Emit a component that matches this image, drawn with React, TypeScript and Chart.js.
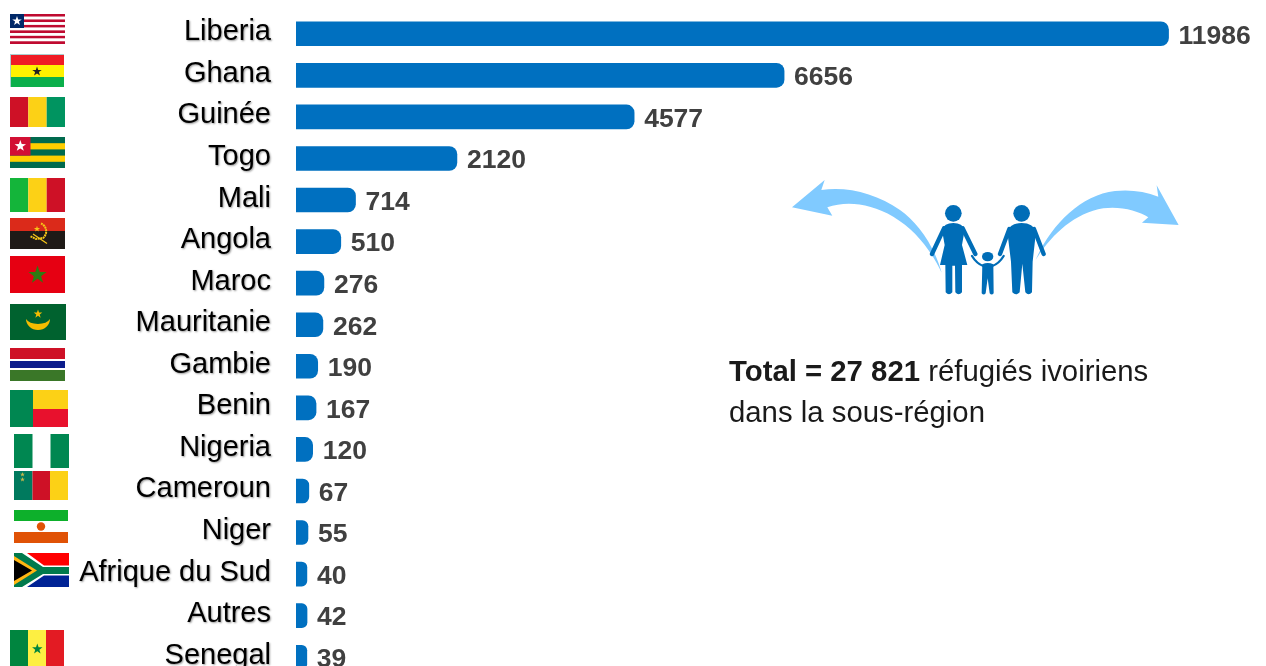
import React, { useEffect, useRef } from "react";
import { Chart, registerables } from "chart.js";

Chart.register(...registerables);

const countries = ["Liberia","Ghana","Guinée","Togo","Mali","Angola","Maroc","Mauritanie","Gambie","Benin","Nigeria","Cameroun","Niger","Afrique du Sud","Autres","Senegal"];
const refugees = [11986,6656,4577,2120,714,510,276,262,190,167,120,67,55,40,42,39];

const BAR = "#0070C0";
const FONT = '"Liberation Sans", Arial, sans-serif';

const labelShadow = {
  id: "labelShadow",
  beforeDraw(chart: any) {
    const c = chart.ctx;
    c.shadowColor = "rgba(0,0,0,0.4)";
    c.shadowBlur = 2;
    c.shadowOffsetX = 1;
    c.shadowOffsetY = 1;
  },
  beforeDatasetsDraw(chart: any) {
    const c = chart.ctx;
    c.shadowColor = "rgba(0,0,0,0)";
    c.shadowBlur = 0;
    c.shadowOffsetX = 0;
    c.shadowOffsetY = 0;
  },
};

const valueLabels = {
  id: "valueLabels",
  afterDatasetsDraw(chart: any) {
    const c = chart.ctx;
    const meta = chart.getDatasetMeta(0);
    c.save();
    c.font = `bold 26.5px ${FONT}`;
    c.fillStyle = "#404040";
    c.textAlign = "left";
    c.textBaseline = "middle";
    meta.data.forEach((el: any, i: number) => {
      c.fillText(String(refugees[i]), el.x + 10, el.y + 2.5);
    });
    c.restore();
  },
};

function star(cx: number, cy: number, r: number) {
  const pts: string[] = [];
  for (let i = 0; i < 10; i++) {
    const a = -Math.PI / 2 + (i * Math.PI) / 5;
    const q = i % 2 ? r * 0.4 : r;
    pts.push(`${cx + q * Math.cos(a)},${cy + q * Math.sin(a)}`);
  }
  return pts.join(" ");
}

function R(x: number, y: number, w: number, h: number, fill: string) {
  return <rect x={x} y={y} width={w} height={h} fill={fill} />;
}

function Flags() {
  const liberia = [];
  for (let i = 0; i < 11; i++) {
    liberia.push(<rect key={i} x={10} y={14 + (i * 30) / 11} width={55} height={30 / 11} fill={i % 2 ? "#fff" : "#BF0A30"} />);
  }
  return (
    <svg width={1266} height={666} style={{ position: "absolute", left: 0, top: 0, pointerEvents: "none" }}>
      {/* Liberia */}
      {liberia}
      {R(10, 14, 14, 14, "#002868")}
      <polygon points={star(17, 21, 5)} fill="#fff" />
      {/* Ghana */}
      {R(10, 54, 54, 33, "#A9CFCF")}
      {R(11, 55, 53, 10, "#EF1C25")}
      {R(11, 65, 53, 12, "#FFF200")}
      {R(11, 77, 53, 10, "#0BAF4B")}
      <polygon points={star(37, 71.5, 5)} fill="#222" />
      {/* Guinée */}
      {R(10, 97, 18.3, 30, "#CE1126")}
      {R(28.3, 97, 18.4, 30, "#FCD116")}
      {R(46.7, 97, 18.3, 30, "#009460")}
      {/* Togo */}
      {R(10, 137, 55, 31, "#006A4E")}
      {R(10, 143.2, 55, 6.2, "#FFCE00")}
      {R(10, 155.6, 55, 6.2, "#FFCE00")}
      {R(10, 137, 20.5, 18.6, "#D21034")}
      <polygon points={star(20.3, 146, 6)} fill="#fff" />
      {/* Mali */}
      {R(10, 178, 18.3, 34, "#14B53A")}
      {R(28.3, 178, 18.4, 34, "#FCD116")}
      {R(46.7, 178, 18.3, 34, "#CE1126")}
      {/* Angola */}
      {R(10, 218, 55, 13, "#DB2A1A")}
      {R(10, 231, 55, 18, "#1F1A17")}
      <path d="M41 223.5 A8.5 8.5 0 0 1 43 238 L36 239 L30 236" fill="none" stroke="#F5C518" strokeWidth={2} strokeDasharray="2 0.6" />
      <path d="M33 234 L47 243.5" stroke="#F5C518" strokeWidth={1.3} fill="none" />
      <polygon points={star(37, 229, 3.2)} fill="#F5C518" />
      {/* Maroc */}
      {R(10, 256, 55, 37, "#E60012")}
      <polygon points={star(37.5, 275, 9.5)} fill="#2F7A12" />
      {/* Mauritanie */}
      {R(10, 304, 56, 36, "#00622F")}
      <path d="M26 319 A12 11 0 0 0 50 319 A13 8 0 0 1 26 319 Z" fill="#F5BC00" />
      <polygon points={star(38, 314, 4.5)} fill="#F5BC00" />
      {/* Gambie */}
      {R(10, 348, 55, 11, "#CE1126")}
      {R(10, 361, 55, 7, "#0C1C8C")}
      {R(10, 370, 55, 11, "#3A7728")}
      {/* Benin */}
      {R(10, 390, 23, 37, "#008751")}
      {R(33, 390, 35, 19, "#FCD116")}
      {R(33, 409, 35, 18, "#E8112D")}
      {/* Nigeria */}
      {R(14, 434, 18.5, 34, "#008751")}
      {R(50.5, 434, 18.5, 34, "#008751")}
      {/* Cameroun */}
      {R(14, 471, 18.5, 29, "#007A5E")}
      {R(32.5, 471, 17.5, 29, "#CE1126")}
      {R(50, 471, 18, 29, "#FCD116")}
      <polygon points={star(22.5, 474.5, 2.5)} fill="#C9B84A" />
      <polygon points={star(22.5, 479.5, 2.5)} fill="#C9B84A" />
      {/* Niger */}
      {R(14, 510, 54, 11, "#0DB02B")}
      {R(14, 532, 54, 11, "#E05206")}
      <circle cx={41} cy={526.5} r={4.2} fill="#E05206" />
      {/* Afrique du Sud */}
      {R(14, 553, 55, 17, "#FF0000")}
      {R(14, 570, 55, 17, "#002395")}
      <polygon points="14,553 27,553 44,565.5 69,565.5 69,575.5 44,575.5 27,587 14,587" fill="#fff" />
      <polygon points="14,553 22,553 43,567 69,567 69,574 43,574 22,587 14,587" fill="#007A4D" />
      <polygon points="14,556 37,570.5 14,585" fill="#FFB612" />
      <polygon points="14,560 32,570.5 14,581" fill="#000" />
      {/* Senegal */}
      {R(10, 630, 18, 36, "#00853F")}
      {R(28, 630, 18, 36, "#FDEF42")}
      {R(46, 630, 18, 36, "#E31B23")}
      <polygon points={star(37.3, 649, 5.5)} fill="#00853F" />
    </svg>
  );
}

function Family() {
  const blue = "#006DB7";
  const light = "#80CAFF";
  return (
    <svg width={1266} height={666} style={{ position: "absolute", left: 0, top: 0, pointerEvents: "none" }}>
      <g transform="translate(780 170) scale(0.3333)">
        <path d="M36 112 L134 30 L124 60 C200 48 290 70 360 120 C410 155 460 220 485 308 C450 235 405 180 340 140 C270 100 200 92 142 112 L157 137 Z" fill={light} />
        <path d="M1196 165 L1130 46 L1135 80 C1095 64 1050 58 1005 63 C900 75 810 170 767 270 C810 200 880 130 970 115 C1020 108 1075 122 1105 142 L1086 158 Z" fill={light} />
      </g>
      <g transform="translate(920 195) scale(0.3333)">
        <g fill={blue}>
          <circle cx={100} cy={55} r={25} />
          <circle cx={305} cy={55} r={25} />
          <ellipse cx={203} cy={185} rx={17} ry={14} />
          <path d="M66 105 Q72 84 100 84 Q128 84 134 105 L126 150 L142 210 L126 210 L126 292 Q116 304 106 292 L105 212 L97 212 L97 292 Q87 304 77 292 L76 210 L60 210 L74 150 Z" />
          <path d="M262 110 Q270 84 305 84 Q340 84 348 110 L338 200 L336 292 Q326 304 316 292 L307 206 L299 292 Q288 304 277 292 L273 200 Z" />
          <path d="M187 208 Q203 200 220 208 L221 295 Q215 302 209 295 L203 250 L197 295 Q191 302 185 295 Z" />
        </g>
        <g stroke={blue} fill="none" strokeLinecap="round">
          <g strokeWidth={13}>
            <path d="M72 100 L36 177" />
            <path d="M128 100 L166 177" />
            <path d="M268 102 L240 177" />
            <path d="M342 102 L371 177" />
          </g>
          <g strokeWidth={7}>
            <path d="M190 213 Q170 206 156 183" />
            <path d="M217 213 Q237 206 251 183" />
          </g>
        </g>
      </g>
    </svg>
  );
}

export default function App() {
  const ref = useRef<HTMLCanvasElement | null>(null);
  useEffect(() => {
    document.body.style.margin = "0";
    document.body.style.background = "#fff";
    const chart = new Chart(ref.current as HTMLCanvasElement, {
      type: "bar",
      data: {
        labels: countries,
        datasets: [
          {
            data: refugees,
            base: -111,
            backgroundColor: BAR,
            barThickness: 24,
            borderRadius: { topLeft: 0, bottomLeft: 0, topRight: 8, bottomRight: 8 },
            borderSkipped: false,
          } as any,
        ],
      },
      options: {
        indexAxis: "y",
        animation: false,
        responsive: false,
        events: [],
        layout: { padding: { top: 13, bottom: 12, left: 0, right: 0 } },
        plugins: { legend: { display: false }, tooltip: { enabled: false } },
        scales: {
          x: { display: false, min: -111, max: 13337 },
          y: {
            grid: { display: false, drawTicks: false },
            border: { display: false },
            afterFit: (s: any) => { s.width = 296; s.paddingTop = 0; s.paddingBottom = 0; },
            ticks: {
              autoSkip: false,
              padding: 25,
              labelOffset: -1.5,
              color: "#000",
              font: { family: FONT, size: 29 },
            },
          },
        },
      } as any,
      plugins: [labelShadow, valueLabels],
    });
    return () => chart.destroy();
  }, []);

  return (
    <div style={{ position: "relative", width: 1266, height: 666, overflow: "hidden", background: "#fff" }}>
      <canvas ref={ref} width={1266} height={690} style={{ display: "block" }} />
      <Flags />
      <Family />
      <div style={{ position: "absolute", left: 729, top: 350, fontFamily: FONT, fontSize: 29.33, lineHeight: "41px", color: "#1A1A1A", whiteSpace: "nowrap" }}>
        <b>Total = 27 821</b> réfugiés ivoiriens<br />dans la sous-région
      </div>
    </div>
  );
}
